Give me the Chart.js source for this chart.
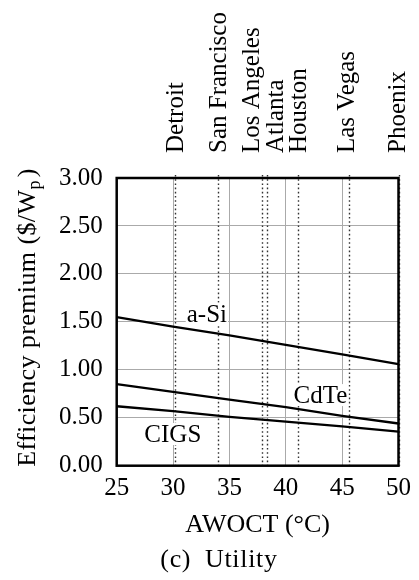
<!DOCTYPE html>
<html>
<head>
<meta charset="utf-8">
<script src="https://cdn.jsdelivr.net/npm/chart.js@4.4.1/dist/chart.umd.min.js"></script>
<style>
  html, body { margin: 0; padding: 0; background: #fff; }
  canvas { display: block; }
</style>
</head>
<body>
<canvas id="chart" width="419" height="580"></canvas>
<script>
// Efficiency premium vs. annual weighted operating cell temperature (utility scale)
const temperatures = [25, 30, 35, 40, 45, 50];
const aSiPremium   = [1.55, 1.45, 1.36, 1.26, 1.16, 1.06];
const cdTePremium  = [0.85, 0.77, 0.69, 0.61, 0.52, 0.44];
const cigsPremium  = [0.62, 0.57, 0.51, 0.46, 0.41, 0.355];

// Reference cities and their AWOCT (°C)
const cityNames = ['Detroit', 'San Francisco', 'Los Angeles', 'Atlanta', 'Houston', 'Las Vegas', 'Phoenix'];
const cityAwoct = [30.15, 34.0, 37.9, 38.3, 41.1, 45.6, 50.0];

const xTicks = [25, 30, 35, 40, 45, 50];
const yTicks = [0, 0.5, 1.0, 1.5, 2.0, 2.5, 3.0];

const SERIF = "'Liberation Serif', 'DejaVu Serif', serif";

// Inline series names: [text, AWOCT, premium] (text centre, baseline)
const seriesTags = [
  ['a-Si', 33.0, 1.50],
  ['CdTe', 43.07, 0.653],
  ['CIGS', 29.98, 0.247]
];
// sideways nudges (px) so neighbouring city names don't collide
const cityNudge = { 'Los Angeles': -11, 'Atlanta': 8, 'Las Vegas': -2.5, 'Phoenix': -1.5 };

function line(data) {
  return temperatures.map((t, i) => ({ x: t, y: data[i] }));
}

const decorations = {
  id: 'decorations',
  beforeDatasetsDraw(chart) {
    const { ctx, chartArea: a, scales: { x } } = chart;
    ctx.save();
    ctx.strokeStyle = '#333';
    ctx.lineWidth = 1.4;
    ctx.setLineDash([1.6, 2.6]);
    cityAwoct.forEach(v => {
      const px = Math.round(x.getPixelForValue(v)) + 0.5;
      ctx.beginPath();
      ctx.moveTo(px, a.top - 3);
      ctx.lineTo(px, a.bottom);
      ctx.stroke();
    });
    ctx.restore();
  },
  afterDatasetsDraw(chart) {
    const { ctx, scales: { x, y } } = chart;
    ctx.save();
    // series names on white patches
    ctx.font = `25px ${SERIF}`;
    ctx.textAlign = 'center';
    ctx.textBaseline = 'alphabetic';
    seriesTags.forEach(([txt, vx, vy]) => {
      const cx = x.getPixelForValue(vx);
      const by = y.getPixelForValue(vy);
      const m = ctx.measureText(txt);
      ctx.fillStyle = '#fff';
      ctx.fillRect(cx - m.width / 2 - 1, by - 19, m.width + 2, 22);
      ctx.fillStyle = '#000';
      ctx.fillText(txt, cx, by);
    });
    ctx.restore();
  },
  afterDraw(chart) {
    const { ctx, chartArea: a, scales: { x } } = chart;
    ctx.save();
    // plot frame
    ctx.strokeStyle = '#000';
    ctx.lineWidth = 2.5;
    ctx.strokeRect(a.left, a.top, a.right - a.left, a.bottom - a.top);

    ctx.fillStyle = '#000';
    // city names, reading upward, above the frame
    ctx.font = `25px ${SERIF}`;
    ctx.textAlign = 'left';
    ctx.textBaseline = 'alphabetic';
    cityNames.forEach((name, i) => {
      const px = x.getPixelForValue(cityAwoct[i]) + 8 + (cityNudge[name] || 0);
      ctx.save();
      ctx.translate(px, a.top - 25);
      ctx.rotate(-Math.PI / 2);
      ctx.fillText(name, 0, 0);
      ctx.restore();
    });

    // y axis title with subscript
    const big = `26px ${SERIF}`, small = `18px ${SERIF}`;
    const p1 = 'Efficiency premium ($/W', p2 = 'p', p3 = ')';
    ctx.letterSpacing = '0.4px';
    ctx.font = big;   const w1 = ctx.measureText(p1).width, w3 = ctx.measureText(p3).width;
    ctx.font = small; const w2 = ctx.measureText(p2).width;
    const total = w1 + w2 + 3 + w3;
    ctx.save();
    ctx.translate(35, 317.5);
    ctx.rotate(-Math.PI / 2);
    let cx = -total / 2;
    ctx.font = big;   ctx.fillText(p1, cx, 0); cx += w1;
    ctx.font = small; ctx.fillText(p2, cx, 5); cx += w2 + 3;
    ctx.font = big;   ctx.fillText(p3, cx, 0);
    ctx.restore();

    // x axis title and caption
    ctx.textAlign = 'center';
    ctx.letterSpacing = '0px';
    ctx.font = `26px ${SERIF}`;
    ctx.fillText('AWOCT (°C)', (a.left + a.right) / 2, 532);
    ctx.letterSpacing = '0.7px';
    ctx.fillText('(c)\u2002Utility', 219, 567);
    ctx.restore();
  }
};

new Chart(document.getElementById('chart'), {
  type: 'line',
  data: {
    datasets: [
      { label: 'a-Si', data: line(aSiPremium) },
      { label: 'CdTe', data: line(cdTePremium) },
      { label: 'CIGS', data: line(cigsPremium) }
    ].map(d => Object.assign(d, {
      borderColor: '#000', borderWidth: 2.3, pointRadius: 0, fill: false, tension: 0
    }))
  },
  options: {
    responsive: false,
    animation: false,
    devicePixelRatio: 1,
    layout: { padding: { top: 178, right: 14.7, left: 0, bottom: 0 } },
    plugins: { legend: { display: false }, tooltip: { enabled: false } },
    scales: {
      x: {
        type: 'linear', min: 25, max: 50,
        afterBuildTicks(s) { s.ticks = xTicks.map(v => ({ value: v })); },
        ticks: { font: { family: SERIF, size: 25 }, color: '#000', padding: 8, maxRotation: 0, autoSkip: false },
        grid: { color: '#aaa', lineWidth: 1, drawTicks: false },
        border: { display: false },
        afterFit(s) { s.height = 114.3; }
      },
      y: {
        type: 'linear', min: 0, max: 3,
        afterBuildTicks(s) { s.ticks = yTicks.map(v => ({ value: v })); },
        ticks: { font: { family: SERIF, size: 25 }, color: '#000', padding: 14, callback: v => v.toFixed(2) },
        grid: { color: '#aaa', lineWidth: 1, drawTicks: false },
        border: { display: false },
        afterFit(s) { s.width = 116.7; }
      }
    }
  },
  plugins: [decorations]
});
</script>
</body>
</html>
